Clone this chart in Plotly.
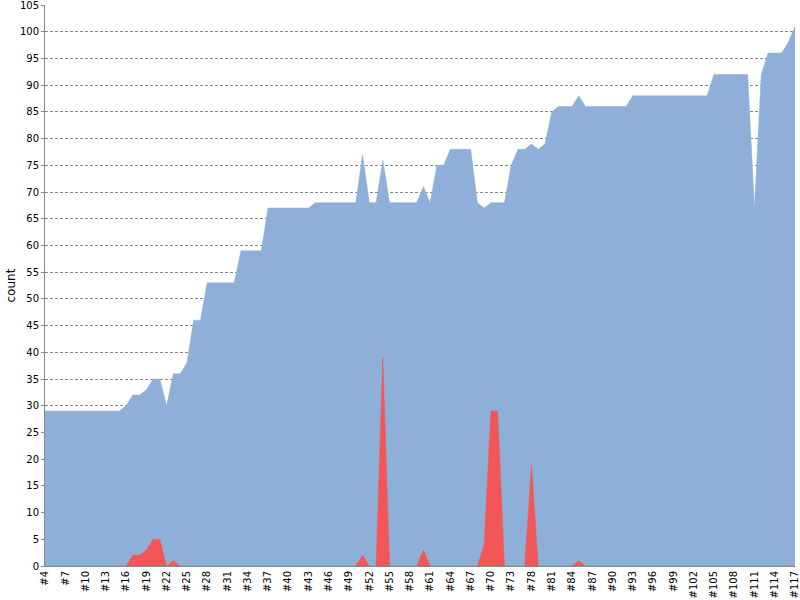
import plotly.graph_objects as go

# -----------------------------
# Data
# -----------------------------
build_ids = list(range(4, 74)) + [75, 77] + list(range(78, 118))
categories = ["#" + str(n) for n in build_ids]

total_count = [
    29, 29, 29, 29, 29, 29, 29, 29, 29, 29, 29, 29,          # #4-#15
    30, 32, 32, 33, 35, 35, 30, 36, 36, 38, 46, 46,          # #16-#27
    53, 53, 53, 53, 53, 59, 59, 59, 59,                      # #28-#36
    67, 67, 67, 67, 67, 67, 67, 68, 68, 68, 68, 68, 68, 68,  # #37-#50
    77, 68, 68, 76, 68, 68, 68, 68, 68, 71, 68, 75, 75,      # #51-#63
    78, 78, 78, 78, 68, 67, 68, 68, 68, 75,                  # #64-#73
    78, 78,                                                  # #75, #77
    79, 78, 79, 85, 86, 86, 86, 88,                          # #78-#85
    86, 86, 86, 86, 86, 86, 86,                              # #86-#92
    88, 88, 88, 88, 88, 88, 88, 88, 88, 88, 88, 88,          # #93-#104
    92, 92, 92, 92, 92, 92,                                  # #105-#110
    67, 92, 96, 96, 96, 98, 101,                             # #111-#117
]

failed_count = [
    0, 0, 0, 0, 0, 0, 0, 0, 0, 0, 0, 0,                      # #4-#15
    0, 2, 2, 3, 5, 5, 0, 1, 0, 0, 0, 0,                      # #16-#27
    0, 0, 0, 0, 0, 0, 0, 0, 0,                               # #28-#36
    0, 0, 0, 0, 0, 0, 0, 0, 0, 0, 0, 0, 0, 0,                # #37-#50
    2, 0, 0, 39, 0, 0, 0, 0, 0, 3, 0, 0, 0,                  # #51-#63
    0, 0, 0, 0, 0, 4, 29, 29, 0, 0,                          # #64-#73
    0, 0,                                                    # #75, #77
    19, 0, 0, 0, 0, 0, 0, 1,                                 # #78-#85
    0, 0, 0, 0, 0, 0, 0,                                     # #86-#92
    0, 0, 0, 0, 0, 0, 0, 0, 0, 0, 0, 0,                      # #93-#104
    0, 0, 0, 0, 0, 0,                                        # #105-#110
    0, 0, 0, 0, 0, 0, 0,                                     # #111-#117
]

y_ticks = list(range(0, 106, 5))

# -----------------------------
# Figure
# -----------------------------
fig = go.Figure()

fig.add_trace(go.Scatter(
    x=categories,
    y=total_count,
    mode="lines",
    fill="tozeroy",
    fillcolor="rgb(142,176,216)",
    line=dict(color="rgb(142,176,216)", width=0.5),
    name="total",
))

fig.add_trace(go.Scatter(
    x=categories,
    y=failed_count,
    mode="lines",
    fill="tozeroy",
    fillcolor="rgb(242,86,86)",
    line=dict(color="rgb(242,86,86)", width=0.5),
    name="failed",
))

fig.update_layout(
    width=800,
    height=600,
    margin=dict(l=45, r=5, t=5, b=34, autoexpand=False),
    paper_bgcolor="white",
    plot_bgcolor="white",
    showlegend=False,
    font=dict(family="DejaVu Sans", size=10, color="#000000"),
)

fig.update_xaxes(
    type="category",
    range=[0, len(categories) - 1],
    tickmode="array",
    tickvals=categories[::3],
    tickangle=-90,
    showgrid=False,
    showline=True,
    linecolor="#888888",
    linewidth=1,
    ticks="",
    automargin=False,
    ticklabeloverflow="allow",
    tickfont=dict(family="DejaVu Sans", size=10),
)

fig.update_yaxes(
    range=[0, 105],
    tickmode="array",
    tickvals=y_ticks,
    showgrid=True,
    gridcolor="#888888",
    gridwidth=1,
    griddash="3px,2px",
    showline=True,
    linecolor="#888888",
    linewidth=1,
    ticks="outside",
    ticklen=3,
    tickcolor="#888888",
    zeroline=False,
    automargin=False,
    ticklabeloverflow="allow",
    tickfont=dict(family="DejaVu Sans", size=10),
)

# y axis title placed by hand so it sits at the far left like the reference
fig.add_annotation(
    text="count",
    xref="paper", yref="paper",
    x=0, y=0.5,
    xanchor="center", yanchor="middle",
    xshift=-35,
    textangle=-90,
    showarrow=False,
    font=dict(family="DejaVu Sans", size=12, color="#000000"),
)

# drop the page's default body margin so the 800x600 figure fills the window
fig.write_html(
    "out.html",
    config={"displayModeBar": False},
    post_script="document.body.style.margin='0';document.body.style.overflow='hidden';",
)
